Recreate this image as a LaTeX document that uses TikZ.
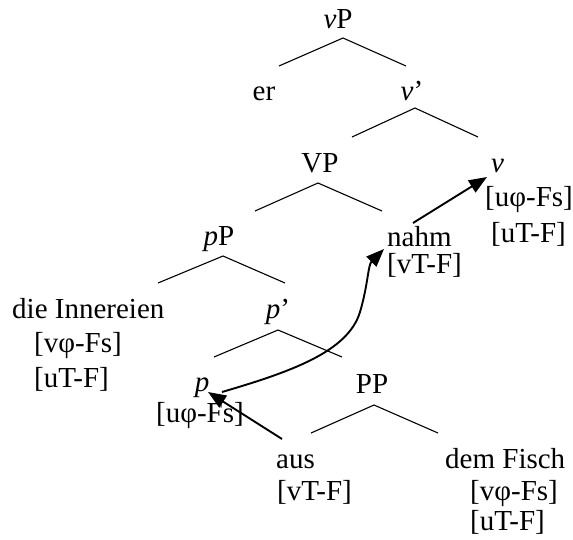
\documentclass[tikz,border=0pt]{standalone}
\usepackage{fontspec}
\setmainfont{Liberation Serif}
\usetikzlibrary{arrows.meta}
\tikzset{
  lbl/.style={inner sep=0pt, anchor=base, font=\fontsize{29}{34}\selectfont},
  lblw/.style={lbl, anchor=base west},
  branch/.style={line width=1.1pt},
  mv/.style={line width=1.9pt, -{Triangle[length=18pt,width=14pt]}}
}
\begin{document}
\begin{tikzpicture}[x=1pt,y=-1pt]
\useasboundingbox (0,0) rectangle (573,539);
% labels
\node[lbl] (vP) at (338,28) {\textit{v}P};
\node[lbl] (er) at (264,100) {er};
\node[lbl] (vbar) at (412,100) {\textit{v}’};
\node[lbl] (VP) at (320,172) {VP};
\node[lblw] (v) at (491,172) {\textit{v}};
\node[lblw] (vf1) at (485,206) {[uφ-Fs]};
\node[lblw] (vf2) at (491,242) {[uT-F]};
\node[lblw] (nahm) at (387,246) {nahm};
\node[lblw] (nf1) at (387,273) {[vT-F]};
\node[lbl] (pP) at (219,245) {\textit{p}P};
\node[lblw] (die) at (12,318) {die Innereien};
\node[lbl] (pbar) at (278,318) {\textit{p}’};
\node[lblw] (df1) at (34,352) {[vφ-Fs]};
\node[lblw] (df2) at (34,387) {[uT-F]};
\node[lbl] (p) at (202,391) {\textit{p}};
\node[lblw] (pf1) at (156,422) {[uφ-Fs]};
\node[lbl] (PP) at (372,393) {PP};
\node[lblw] (aus) at (276,468) {aus};
\node[lblw] (af1) at (277,500) {[vT-F]};
\node[lblw] (dem) at (445,468) {dem Fisch};
\node[lblw] (ff1) at (470,500) {[vφ-Fs]};
\node[lblw] (ff2) at (470,530) {[uT-F]};
% branch points
\coordinate (a1) at (343,38);  \coordinate (l1) at (279,66);  \coordinate (r1) at (406,66);
\coordinate (a2) at (415,108); \coordinate (l2) at (352,137); \coordinate (r2) at (478,137);
\coordinate (a3) at (318,183); \coordinate (l3) at (255,211); \coordinate (r3) at (382,211);
\coordinate (a4) at (223,256); \coordinate (l4) at (158,283); \coordinate (r4) at (285,283);
\coordinate (a5) at (278,330); \coordinate (l5) at (214,357); \coordinate (r5) at (342,357);
\coordinate (a6) at (374,405); \coordinate (l6) at (311,433); \coordinate (r6) at (438,433);
\foreach \i in {1,...,6} {\draw[branch] (l\i) -- (a\i) -- (r\i);}
% movement arrows
\coordinate (nS) at (413,223); \coordinate (vT) at (487,177);
\coordinate (aS) at (282,439); \coordinate (pT) at (208,392);
\coordinate (pS) at (222,392); \coordinate (nT) at (384,249);
\draw[mv] (nS) -- (vT);
\draw[mv] (aS) -- (pT);
\draw[mv] (pS) .. controls (290,372) and (348,352) .. (360,312)
  .. controls (368,285) and (368,265) .. (nT);
\end{tikzpicture}
\end{document}
